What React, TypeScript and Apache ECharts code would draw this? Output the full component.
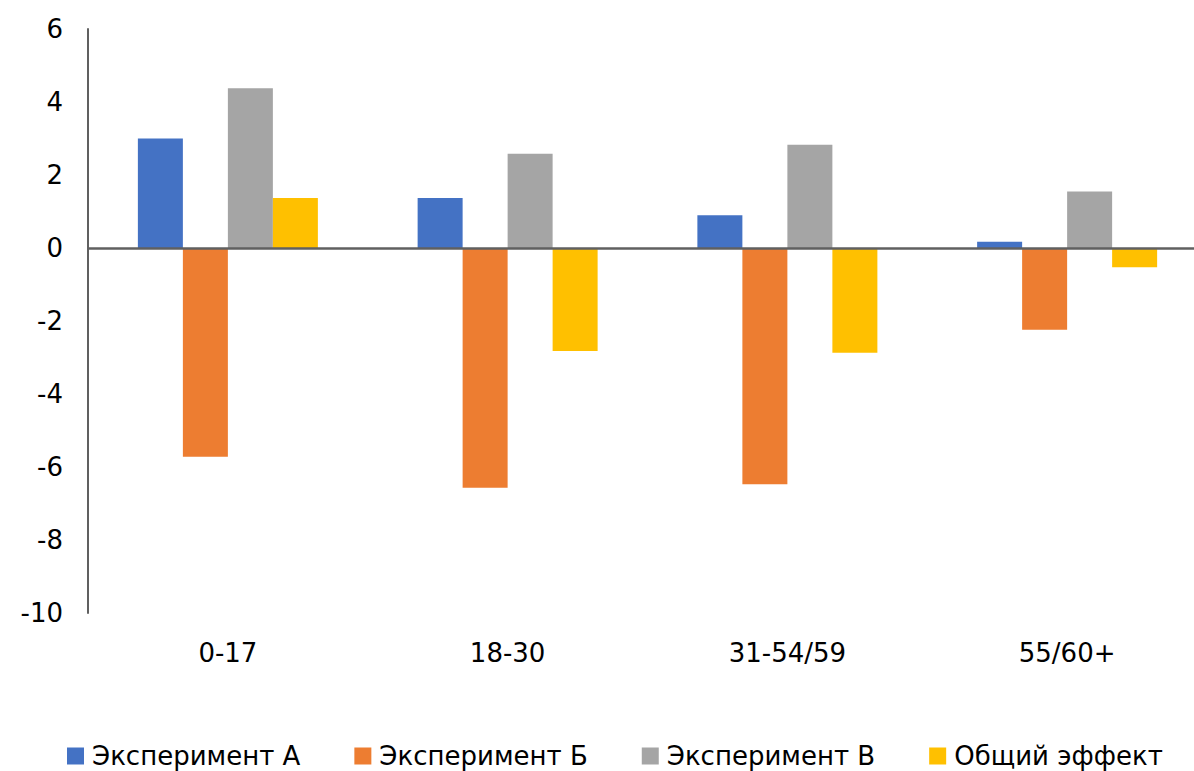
import React, { useEffect, useRef } from "react";
import * as echarts from "echarts";

const categories = ["0-17", "18-30", "31-54/59", "55/60+"];
const seriesNames = ["Эксперимент А", "Эксперимент Б", "Эксперимент В", "Общий эффект"];
const experimentA = [3.0, 1.37, 0.9, 0.17];
const experimentB = [-5.72, -6.57, -6.47, -2.24];
const experimentV = [4.38, 2.58, 2.83, 1.55];
const totalEffect = [1.37, -2.82, -2.87, -0.53];
const colors = ["#4472C4", "#ED7D31", "#A5A5A5", "#FFC000"];
const yTicks = { min: -10, max: 6, interval: 2 };

const FONT = "DejaVu Sans";

export default function App() {
  const ref = useRef<HTMLDivElement>(null);
  useEffect(() => {
    if (!ref.current) return;
    const chart = echarts.init(ref.current, null, { renderer: "svg" });
    const values = [experimentA, experimentB, experimentV, totalEffect];
    chart.setOption({
      animation: false,
      backgroundColor: "#ffffff",
      color: colors,
      textStyle: { fontFamily: FONT },
      grid: {
        left: 88,
        width: 1119,
        top: 29,
        bottom: 158,
        containLabel: false,
        outerBoundsMode: "none",
      },
      legend: {
        left: 67,
        top: 742,
        padding: 0,
        itemWidth: 17,
        itemHeight: 17,
        itemGap: 54,
        icon: "rect",
        textStyle: { fontFamily: FONT, fontSize: 26, color: "#000", padding: [0, 0, 0, 3], lineHeight: 28 },
        data: seriesNames,
      },
      xAxis: {
        type: "category",
        data: categories,
        axisLine: { show: false, onZero: false },
        axisTick: { show: false },
        axisLabel: { fontFamily: FONT, fontSize: 26, color: "#000", margin: 27 },
        splitLine: { show: false },
      },
      yAxis: {
        type: "value",
        min: yTicks.min,
        max: yTicks.max,
        interval: yTicks.interval,
        axisLine: { show: true, lineStyle: { color: "#606060", width: 2 } },
        axisTick: { show: false },
        splitLine: { show: false },
        axisLabel: { fontFamily: FONT, fontSize: 26, color: "#000", margin: 25 },
      },
      series: seriesNames.map((name, i) => ({
        name,
        type: "bar",
        data: values[i],
        barWidth: 45,
        barGap: "0%",
        itemStyle: { color: colors[i] },
        ...(i === 0
          ? {
              markLine: {
                silent: true,
                symbol: "none",
                label: { show: false },
                lineStyle: { color: "#606060", width: 2.5, type: "solid" },
                data: [{ yAxis: 0 }],
                z: 10,
              },
            }
          : {}),
      })),
    });
    return () => chart.dispose();
  }, []);
  return (
    <div
      ref={ref}
      style={{ position: "absolute", left: 0, top: 0, width: 1194, height: 771, background: "#fff" }}
    />
  );
}
